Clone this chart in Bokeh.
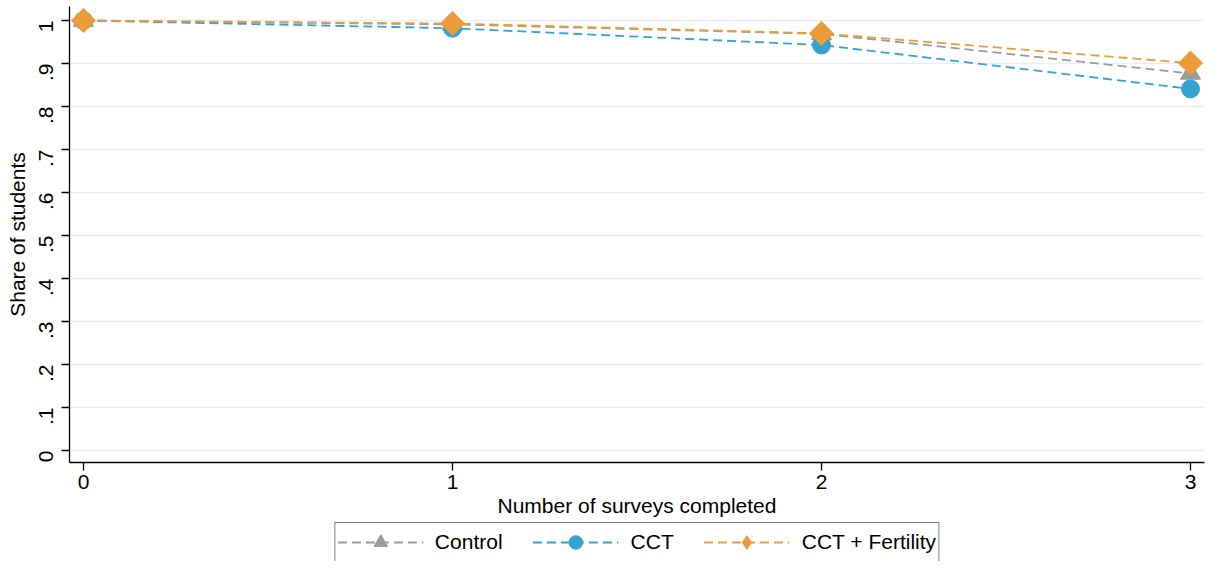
from bokeh.plotting import figure
from bokeh.layouts import column
from bokeh.models import Range1d, FixedTicker, CustomJSTickFormatter, Legend, LegendItem
from bokeh.embed import file_html
from bokeh.resources import INLINE
import math

# ---- data ----
surveys = [0, 1, 2, 3]
control = [1.0, 0.991, 0.969, 0.877]
cct = [1.0, 0.982, 0.943, 0.841]
cct_fert = [1.0, 0.993, 0.970, 0.901]
y_ticks = [0, 0.1, 0.2, 0.3, 0.4, 0.5, 0.6, 0.7, 0.8, 0.9, 1.0]
series_names = ["Control", "CCT", "CCT + Fertility"]

GRAY = "#9a9a9a"
BLUE = "#36a2cf"
ORANGE = "#eb9b38"
FONT = "Liberation Sans"
DASH = "9 5"

p = figure(width=1206, height=522, output_backend="svg", toolbar_location=None,
           x_range=Range1d(-0.0379, 3.0379), y_range=Range1d(-0.0279, 1.0326),
           min_border_left=69, min_border_right=2, min_border_top=6, min_border_bottom=60)
p.outline_line_color = None
p.background_fill_color = "white"
p.border_fill_color = "white"

p.xgrid.visible = False
p.ygrid.grid_line_color = "#e8eff2"
p.ygrid.grid_line_width = 1.5
p.ygrid.ticker = FixedTicker(ticks=y_ticks)

p.xaxis.ticker = FixedTicker(ticks=surveys)
p.yaxis.ticker = FixedTicker(ticks=y_ticks)
p.yaxis.formatter = CustomJSTickFormatter(code="""
if (tick == 0) return "0";
let s = tick.toFixed(1);
if (s.endsWith(".0")) s = s.slice(0, -2);
return s.replace(/^0\\./, ".");
""")
p.yaxis.major_label_orientation = math.pi / 2

for ax in (p.xaxis, p.yaxis):
    ax.axis_line_color = "black"
    ax.axis_line_width = 1.3
    ax.major_tick_line_color = "black"
    ax.major_tick_line_width = 1.3
    ax.major_tick_out = 8
    ax.major_tick_in = 0
    ax.minor_tick_out = 0
    ax.minor_tick_in = 0
    ax.major_label_text_font = FONT
    ax.major_label_text_font_size = "21px"
    ax.major_label_text_color = "black"
    ax.axis_label_text_font = FONT
    ax.axis_label_text_font_size = "21px"
    ax.axis_label_text_font_style = "normal"
    ax.axis_label_text_color = "black"

p.xaxis.axis_label = "Number of surveys completed"
p.yaxis.axis_label = "Share of students"
p.xaxis.major_label_standoff = 4
p.xaxis.axis_label_standoff = 2
p.yaxis.major_label_standoff = 15
p.yaxis.axis_label_standoff = 1

p.line(surveys, control, line_color=GRAY, line_width=1.8, line_dash=DASH)
p.scatter(surveys, control, marker="triangle", size=20, fill_color=GRAY, line_color=GRAY)
p.line(surveys, cct, line_color=BLUE, line_width=1.8, line_dash=DASH)
p.scatter(surveys, cct, marker="circle", size=18, fill_color=BLUE, line_color=BLUE)
p.line(surveys, cct_fert, line_color=ORANGE, line_width=1.8, line_dash=DASH)
p.scatter(surveys, cct_fert, marker="square", size=17, angle=math.pi / 4,
          fill_color=ORANGE, line_color=ORANGE)

# ---- legend strip (separate figure so the key sits below the axis title) ----
lf = figure(width=1206, height=39, output_backend="svg", toolbar_location=None,
            x_axis_type=None, y_axis_type=None,
            x_range=Range1d(-0.0379, 3.0379), y_range=Range1d(-0.0279, 1.0326),
            min_border_left=69, min_border_right=2, min_border_top=0, min_border_bottom=0)
lf.outline_line_color = None
lf.grid.visible = False
lf.border_fill_color = "white"
lf.background_fill_color = "white"

k1 = lf.line(surveys, control, line_color=GRAY, line_width=1.8, line_dash=DASH, visible=False)
s1 = lf.scatter(surveys, control, marker="triangle", fill_color=GRAY, line_color=GRAY, visible=False)
k2 = lf.line(surveys, cct, line_color=BLUE, line_width=1.8, line_dash=DASH, visible=False)
s2 = lf.scatter(surveys, cct, marker="circle", fill_color=BLUE, line_color=BLUE, visible=False)
k3 = lf.line(surveys, cct_fert, line_color=ORANGE, line_width=1.8, line_dash=DASH, visible=False)
s3 = lf.scatter(surveys, cct_fert, marker="diamond", fill_color=ORANGE, line_color=ORANGE, visible=False)

legend = Legend(items=[
    LegendItem(label=series_names[0], renderers=[k1, s1]),
    LegendItem(label=series_names[1], renderers=[k2, s2]),
    LegendItem(label=series_names[2], renderers=[k3, s3]),
], orientation="horizontal", location="top_center")
legend.glyph_width = 86
legend.glyph_height = 34
legend.label_standoff = 12
legend.spacing = 30
legend.padding = 2
legend.margin = 0
legend.label_text_font = FONT
legend.label_text_font_size = "21px"
legend.label_text_color = "black"
legend.border_line_color = "black"
legend.border_line_width = 1.3
legend.background_fill_alpha = 1.0
lf.add_layout(legend, "center")

open("out.html", "w").write(file_html(column(p, lf), INLINE))
